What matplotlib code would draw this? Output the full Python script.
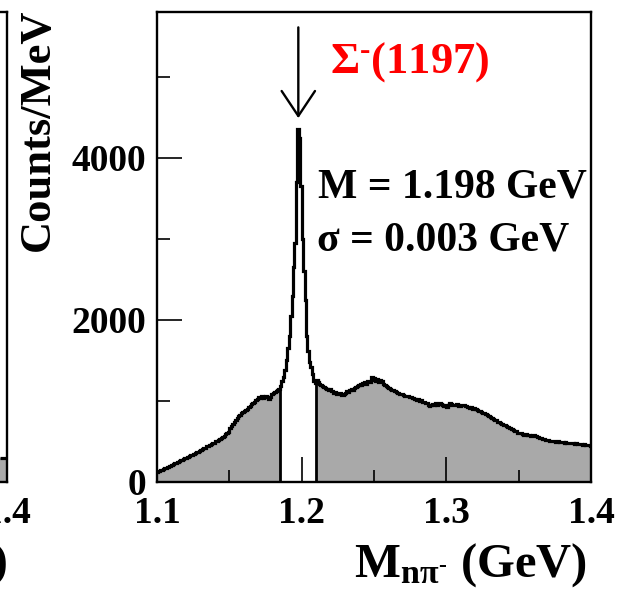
import numpy as np
import matplotlib.pyplot as plt

plt.rcParams['font.family'] = ['Liberation Serif', 'DejaVu Serif']
plt.rcParams['font.weight'] = 'bold'
plt.rcParams['mathtext.fontset'] = 'custom'
plt.rcParams['mathtext.rm'] = 'Liberation Serif:bold'
plt.rcParams['mathtext.it'] = 'Liberation Serif:bold'
plt.rcParams['mathtext.bf'] = 'Liberation Serif:bold'

# Data: counts per 1 MeV bin, M(n pi-) from 1.100 to 1.400 GeV
counts = [
    128, 137, 143, 152, 160, 171, 176, 186, 194, 203,        # 1.100
    212, 222, 228, 240, 246, 257, 266, 272, 284, 292,        # 1.110
    300, 312, 318, 330, 336, 348, 356, 364, 376, 384,        # 1.120
    398, 405, 418, 424, 438, 447, 458, 466, 480, 487,        # 1.130
    500, 510, 522, 534, 545, 560, 570, 586, 600, 620,        # 1.140
    660, 690, 712, 738, 760, 786, 810, 826, 846, 858,        # 1.150
    876, 890, 906, 924, 940, 958, 972, 990, 1006, 1026,      # 1.160
    1050, 1040, 1056, 1038, 1050, 1062, 1044, 1020, 1048, 1080,  # 1.170
    1096, 1110, 1120, 1138, 1150, 1190, 1240, 1300, 1380, 1500,  # 1.180
    1650, 1800, 2050, 2300, 2650, 2950, 3700, 4350, 4250, 3650,  # 1.190
    3000, 2600, 2250, 1800, 1620, 1480, 1420, 1330, 1250, 1220,  # 1.200
    1260, 1230, 1210, 1195, 1190, 1177, 1160, 1150, 1140, 1145,  # 1.210
    1120, 1120, 1100, 1110, 1090, 1080, 1095, 1070, 1075, 1090,  # 1.220
    1100, 1120, 1110, 1136, 1150, 1140, 1165, 1170, 1190, 1200,  # 1.230
    1205, 1195, 1220, 1230, 1215, 1240, 1250, 1235, 1300, 1260,  # 1.240
    1280, 1250, 1265, 1235, 1260, 1240, 1210, 1200, 1180, 1175,  # 1.250
    1160, 1150, 1140, 1130, 1120, 1110, 1098, 1090, 1080, 1085,  # 1.260
    1070, 1060, 1055, 1060, 1045, 1050, 1035, 1040, 1030, 1015,  # 1.270
    1020, 1005, 1010, 990, 985, 970, 975, 950, 935, 945,     # 1.280
    960, 955, 970, 950, 965, 975, 960, 950, 940, 955,        # 1.290
    930, 945, 970, 960, 955, 950, 945, 960, 940, 935,        # 1.300
    945, 955, 950, 940, 930, 925, 915, 920, 905, 910,        # 1.310
    900, 890, 880, 875, 860, 855, 848, 835, 830, 815,        # 1.320
    800, 790, 775, 768, 760, 745, 735, 725, 715, 708,        # 1.330
    700, 690, 680, 670, 660, 655, 642, 630, 625, 610,        # 1.340
    605, 600, 590, 585, 580, 590, 575, 580, 570, 575,        # 1.350
    580, 570, 565, 555, 548, 540, 530, 525, 520, 515,        # 1.360
    520, 510, 505, 500, 505, 498, 492, 500, 495, 490,        # 1.370
    488, 485, 492, 480, 478, 485, 475, 478, 470, 475,        # 1.380
    468, 472, 465, 470, 460, 465, 458, 455, 460, 450,        # 1.390
]
x_range = (1.1, 1.4)
signal_window = (1.185, 1.210)
peak_mass = 1.1977
x_ticks = [1.1, 1.2, 1.3, 1.4]
x_minor = [1.15, 1.25, 1.35]
y_ticks = [0, 2000, 4000]
y_minor = [1000, 3000, 5000]
y_max = 5800

# neighbouring panel (only its last bins show at the left edge)
left_tail_counts = [298, 296, 300, 297, 296]
left_tail_edges = [1.395, 1.396, 1.397, 1.398, 1.399, 1.400]

grey = '#a9a9a9'
counts = np.array(counts, dtype=float)
edges = np.linspace(x_range[0], x_range[1], len(counts) + 1)
i_lo = int(np.argmin(np.abs(edges - signal_window[0])))
i_hi = int(np.argmin(np.abs(edges - signal_window[1])))

fig = plt.figure(figsize=(6.18, 5.90), dpi=100)
ax = fig.add_axes([0.254, 0.1831, 0.7023, 0.7966])


def style_axes(a):
    a.set_xlim(*x_range)
    a.set_ylim(0, y_max)
    a.set_xticks(x_ticks)
    a.set_xticklabels([f'{t:.1f}' for t in x_ticks])
    a.set_xticks(x_minor, minor=True)
    a.set_yticks(y_ticks)
    a.set_yticklabels([str(t) for t in y_ticks])
    a.set_yticks(y_minor, minor=True)
    a.tick_params(which='both', direction='in', top=False, right=False, width=1.2)
    a.tick_params(which='major', length=18, labelsize=27)
    a.tick_params(which='minor', length=9)
    a.tick_params(axis='x', which='major', pad=10)
    a.tick_params(axis='y', which='major', pad=8)
    for s in a.spines.values():
        s.set_linewidth(1.7)
    a.set_axisbelow(False)


ax.stairs(counts, edges, fill=True, color=grey, lw=0, zorder=1)
ax.stairs(counts[i_lo:i_hi], edges[i_lo:i_hi + 1], fill=True, color='white', lw=0, zorder=1.1)
ax.vlines([edges[i_lo], edges[i_hi]], 0, [counts[i_lo - 1], counts[i_hi]], color='black', lw=2, zorder=2)
ax.stairs(counts, edges, baseline=None, color='black', lw=2.3, zorder=2)
style_axes(ax)

ax.annotate('', xy=(peak_mass, 4490), xytext=(peak_mass, 5610),
            arrowprops=dict(arrowstyle='->, head_length=0.9, head_width=0.6',
                            lw=1.7, color='black', mutation_scale=20,
                            shrinkA=0, shrinkB=0))

fig.text(0.534, 0.895, r'$\Sigma^{\text{-}}$(1197)', color='red', fontsize=32,
         ha='left', va='center')
fig.text(0.5146, 0.683, 'M = 1.198 GeV', fontsize=30, ha='left', va='center')
fig.text(0.513, 0.593, 'σ = 0.003 GeV', fontsize=30, ha='left', va='center')

fig.text(0.0615, 0.985, 'Counts/MeV', fontsize=32, rotation=90, ha='center', va='top')
fig.text(0.95, 0.022, r'M$_{\mathrm{n\pi}^{\text{-}}}$ (GeV)', fontsize=35, ha='right', va='baseline')

# edge of the neighbouring panel
ax0 = fig.add_axes([0.0121 - 0.7023, 0.1831, 0.7023, 0.7966])
ax0.stairs(left_tail_counts, left_tail_edges, fill=True, color=grey, lw=0, zorder=1)
ax0.stairs(left_tail_counts, left_tail_edges, baseline=None, color='black', lw=2.3, zorder=2)
style_axes(ax0)
fig.text(0.0121 + 0.002, 0.022, '(GeV)', fontsize=35, ha='right', va='baseline')

fig.savefig('out.png', dpi=100)
